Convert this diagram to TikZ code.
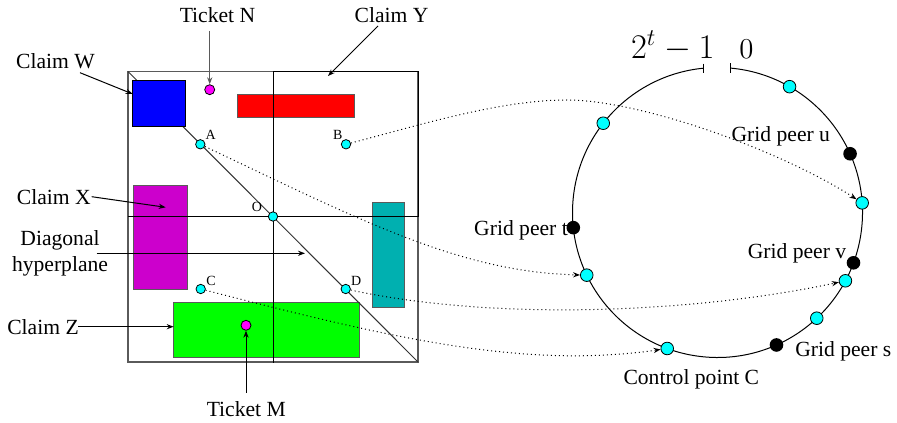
\documentclass[tikz,border=0pt]{standalone}
\usepackage[no-math]{fontspec}
\setmainfont{Liberation Serif}
\usetikzlibrary{arrows.meta,calc}
\definecolor{cyanpt}{RGB}{0,255,255}
\definecolor{magpt}{RGB}{255,0,255}
\definecolor{boxmag}{RGB}{204,0,204}
\definecolor{boxteal}{RGB}{0,176,176}
\definecolor{boxgreen}{RGB}{0,255,0}
\definecolor{boxblue}{RGB}{0,0,255}
\definecolor{boxred}{RGB}{255,0,0}
\definecolor{edgegray}{RGB}{90,90,90}
\begin{document}
\begin{tikzpicture}[x=0.5pt,y=-0.5pt,
  lbl/.style={font=\fontsize{10.8}{13.3}\selectfont, inner sep=0pt, anchor=base},
  ptlbl/.style={font=\fontsize{7}{8}\selectfont, inner sep=0pt, anchor=base},
  tip/.style={-{Stealth[open,length=3.5pt,width=2.6pt]}},
  arr/.style={line width=0.5pt, tip},
  dotarr/.style={line width=0.5pt, dash pattern=on 0.5pt off 1.5pt, tip},
  fbox/.style={draw=edgegray, line width=0.5pt},
  bpt/.style={circle, draw=black, fill=cyanpt, inner sep=0pt, minimum size=4.7pt, line width=0.4pt},
  rpt/.style={circle, draw=black, fill=cyanpt, inner sep=0pt, minimum size=6.3pt, line width=0.4pt},
  blk/.style={circle, fill=black, inner sep=0pt, minimum size=6.8pt},
  tpt/.style={circle, draw=black, fill=magpt, inner sep=0pt, minimum size=5pt, line width=0.4pt}
]
\useasboundingbox (0,0) rectangle (897,422);

% ---------- left panel: filled claims ----------
\draw[fbox, fill=boxred] (237,94.3) rectangle (354.3,117.3);
\draw[fbox, fill=boxmag] (133.3,185) rectangle (187.3,289.3);
\draw[fbox, fill=boxteal] (372.7,202.7) rectangle (404.7,307.3);
\draw[fbox, fill=boxgreen] (173.7,302.7) rectangle (359.3,357);

% frame and hyperplanes
\draw[edgegray, line width=0.6pt] (128,71.5) rectangle (418,362);
\draw[black, line width=0.5pt] (273,71.5) rectangle (418,216.5);
\draw[black, line width=0.5pt] (273,71.5) -- (273,362.5);
\draw[black, line width=0.9pt] (128,216.5) -- (273,216.5);
\draw[black!80, line width=0.5pt] (128,71.5) -- (418,362);

% blue claim W (covers the diagonal)
\draw[fbox, draw=black, fill=boxblue] (132.7,80.3) rectangle (185,126.7);

% ---------- ring ----------
\coordinate (rc) at (717.5,212.5);
\coordinate (e0) at ($(rc)+(85:72.5pt)$);
\coordinate (e1) at ($(rc)+(95.6:72.5pt)$);
\draw[line width=0.5pt] (e0) arc[start angle=85, end angle=-264.4, radius=72.5pt];
\draw[line width=0.5pt] ([yshift=2.3pt]e0) -- ([yshift=-2.3pt]e0);
\draw[line width=0.5pt] ([yshift=2.3pt]e1) -- ([yshift=-2.3pt]e1);

\node[font=\fontsize{17.28}{20}\selectfont, inner sep=0pt, anchor=base] (top1) at (672.7,58.3) {$2^t-1$};
\node[font=\fontsize{14.4}{16}\selectfont, inner sep=0pt, anchor=base] (top0) at (746.5,58.3) {$0$};

% ring labels
\node[lbl] (lu) at (780.8,141.7) {Grid peer u};
\node[lbl] (lt) at (521,235) {Grid peer t};
\node[lbl] (lv) at (797,258.3) {Grid peer v};
\node[lbl] (ls) at (843.3,356.7) {Grid peer s};
\node[lbl] (lc) at (691.3,384.3) {Control point C};

% ring points
\node[rpt] (r1) at ($(rc)+(60.2:72.5pt)$) {};
\node[rpt] (r2) at ($(rc)+(142:72.5pt)$) {};
\node[rpt] (r3) at ($(rc)+(3.8:72.5pt)$) {};
\node[rpt] (r5) at ($(rc)+(205.6:72.5pt)$) {};
\node[rpt] (r6) at ($(rc)+(-28.1:72.5pt)$) {};
\node[rpt] (r7) at ($(rc)+(-46.8:72.5pt)$) {};
\node[rpt] (r8) at ($(rc)+(249.7:72.5pt)$) {};
\node[blk] (gu) at ($(rc)+(23.9:72.5pt)$) {};
\node[blk] (gt) at ($(rc)+(186:72.5pt)$) {};
\node[blk] (gv) at ($(rc)+(-20.3:72.5pt)$) {};
\node[blk] (gs) at ($(rc)+(-66:72.5pt)$) {};

% ---------- left panel points ----------
\node[bpt] (pA) at (200.3,144.3) {};
\node[bpt] (pB) at (346,144.3) {};
\node[bpt] (pO) at (273,216.5) {};
\node[bpt] (pC) at (200.7,289) {};
\node[bpt] (pD) at (345.7,289) {};
\node[tpt] (tN) at (209.7,89.7) {};
\node[tpt] (tM) at (246,325.3) {};

\node[ptlbl] (lA) at (210.8,140) {A};
\node[ptlbl] (lB) at (337.8,140) {B};
\node[ptlbl] (lO) at (257,211.7) {O};
\node[ptlbl] (lC) at (211,285) {C};
\node[ptlbl] (lD) at (356.2,285) {D};

% ---------- mapping curves ----------
\draw[dotarr] (pA) .. controls (360,220) and (460,272) .. (r5);
\draw[dotarr] (pB) .. controls (420,125) and (500,100) .. (567,100)
                   .. controls (640,100) and (780,150) .. (r3);
\draw[dotarr] (pD) .. controls (500,322) and (700,312) .. (r6);
\draw[dotarr] (pC) .. controls (380,335) and (520,370) .. (r8);

% ---------- left labels and arrows ----------
\node[lbl] (lN) at (217.5,22.7) {Ticket N};
\node[lbl] (lY) at (391.5,22.7) {Claim Y};
\node[lbl] (lW) at (55.5,68.3) {Claim W};
\node[lbl] (lX) at (53.8,204) {Claim X};
\node[font=\fontsize{10.8}{13.3}\selectfont, inner sep=0pt, align=center] (lH) at (60,253.3) {Diagonal\\hyperplane};
\node[lbl] (lZ) at (43,334) {Claim Z};
\node[lbl] (lM) at (246.3,416) {Ticket M};

\coordinate (sN) at (209.7,31);
\coordinate (sY) at (378,26);
\coordinate (eY) at (328,76);
\coordinate (sW) at (80,72.7);
\coordinate (eW) at (132.7,94);
\coordinate (sX) at (91.7,196.7);
\coordinate (eX) at (165.7,207.3);
\coordinate (sH) at (96.7,253.3);
\coordinate (eH) at (305,253.3);
\coordinate (sZ) at (78.3,326.7);
\coordinate (eZ) at (173.7,326.7);
\coordinate (sM) at (246,392.7);

\draw[arr, edgegray] (sN) -- (tN);
\draw[arr] (sY) -- (eY);
\draw[arr] (sW) -- (eW);
\draw[arr] (sX) -- (eX);
\draw[arr] (sH) -- (eH);
\draw[arr] (sZ) -- (eZ);
\draw[arr] (sM) -- (tM);
\end{tikzpicture}
\end{document}
